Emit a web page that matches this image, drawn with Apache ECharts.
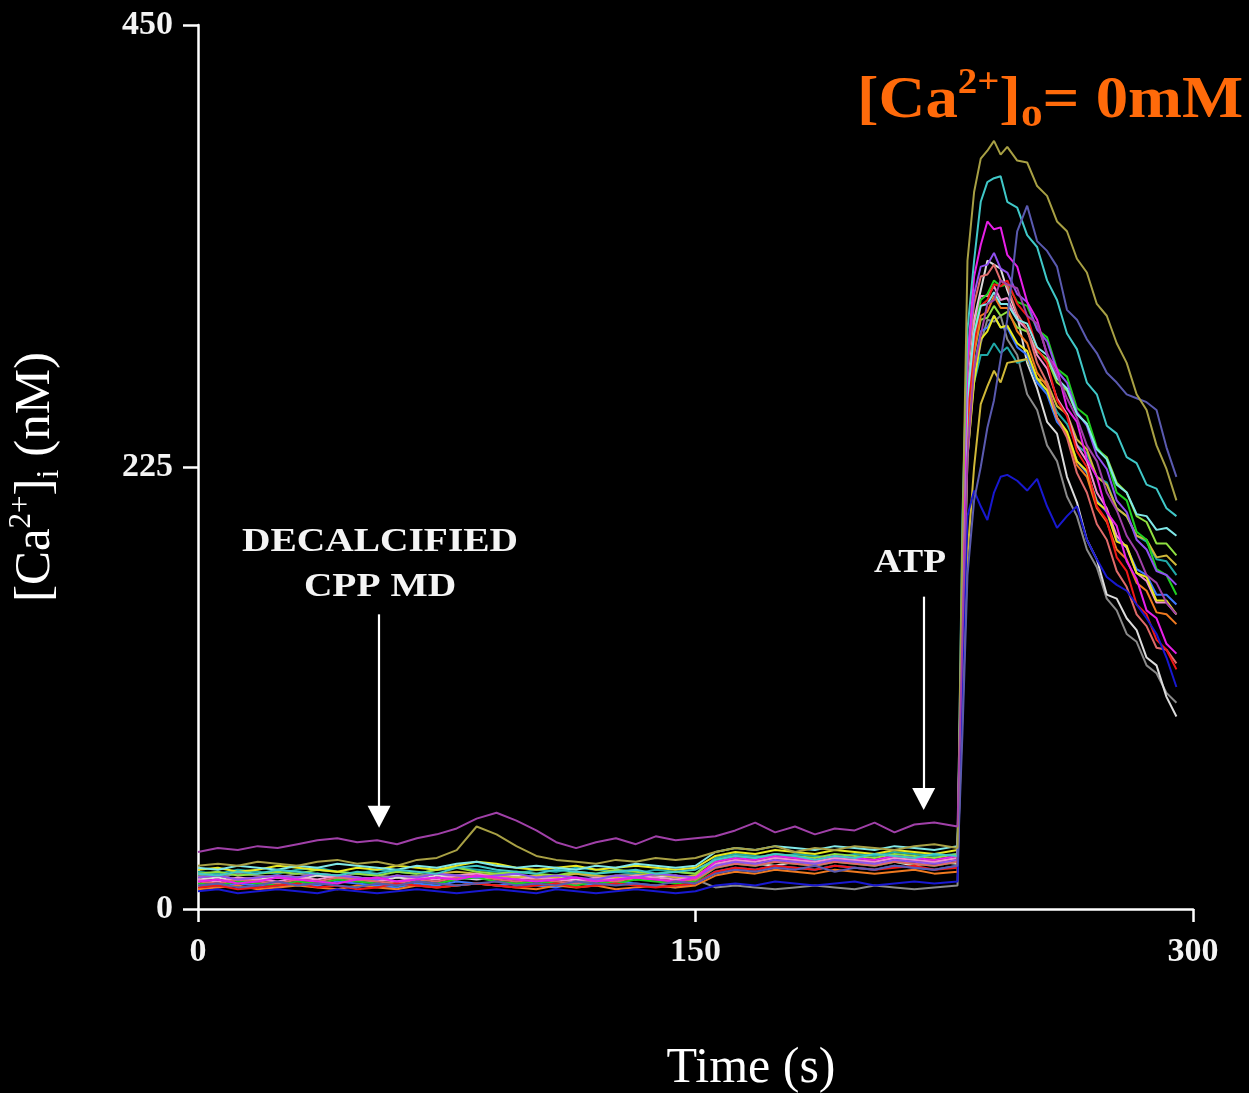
<!DOCTYPE html>
<html><head><meta charset="utf-8">
<script src="https://cdn.jsdelivr.net/npm/echarts@6/dist/echarts.min.js"></script>
<style>html,body{margin:0;padding:0;background:#000}#c{width:1249px;height:1093px}</style>
</head><body><div id="c"></div>
<script>
// time points (s)
const times = [0,6,12,18,24,30,36,42,48,54, 60,66,72,78,84,90,96,102,108,114, 120,126,132,138,144,150,156,162,168,174, 180,186,192,198,204,210,216,222,229,
  230.5,232,234,236,238,240,242,244,247,250, 253,256,259,262,265,268,271,274,277,280, 283,286,289,292,295];
const xTicks = [0,150,300];
const yTicks = [0,225,450];

// [Ca2+]i traces (nM), one per cell
const purple = [29,31,30,32,31,33,35,36,34,35, 33,36,38,41,46,49,45,40,34,31, 34,36,33,37,35,36,37,40,44,39, 42,38,41,40,44,39,43,44,42,
  140,230,275,292,308,310,320,318,316,302, 298,283,272,260,250,236,228,212,203,190, 182,170,166,156,150];
const olive = [22,23,22,24,23,22,24,25,23,24, 22,25,26,30,42,38,32,27,25,24, 23,25,24,26,25,26,29,31,30,32, 29,31,30,32,31,30,32,33,31,
  190,330,365,382,386,391,384,388,381,380, 368,363,350,345,331,324,308,302,288,278, 262,254,236,224,208];
const slate = [12,13,11,12,14,12,13,12,11,13, 12,14,13,12,13,14,12,13,12,14, 13,12,13,12,14,13,18,20,19,21, 20,22,19,21,20,22,21,20,22,
  90,170,208,225,245,259,280,300,345,358, 340,335,327,305,300,290,283,273,268,262, 260,258,254,235,220];
const cyan = [18,17,19,18,20,19,18,17,19,18, 20,19,18,21,22,20,19,18,20,19, 18,19,20,18,19,20,25,27,26,28, 27,25,27,26,28,27,26,28,27,
  200,295,330,360,370,372,373,360,357,343, 337,320,310,293,285,268,262,246,242,230, 227,216,214,204,200];
const blue = [9,10,8,9,10,9,8,10,9,8, 9,10,9,8,9,10,9,8,10,9, 8,9,10,9,8,9,12,13,12,14, 13,12,13,14,12,13,14,13,14,
  120,200,213,205,198,212,220,221,218,213, 219,205,194,200,205,188,178,169,165,162, 155,148,140,128,113];
const white = [15,16,14,15,16,15,17,16,15,14, 16,15,17,16,15,16,17,15,16,15, 14,16,15,16,17,15,22,24,23,22, 24,23,25,24,23,24,22,24,23,
  150,260,300,315,330,328,326,315,302,278, 265,248,242,220,207,188,178,160,158,148, 142,128,124,108,98];
const gray = [17,16,18,17,16,18,17,16,18,17, 16,17,18,17,16,18,17,16,17,18, 16,17,18,17,16,15,11,12,11,10, 11,12,11,10,12,11,10,11,12,
  130,230,270,288,300,299,302,290,282,262, 254,236,228,210,200,183,174,158,152,140, 136,124,120,110,105];
const magenta = [14,15,13,14,16,15,14,13,15,16, 14,15,16,15,17,16,15,14,15,16, 14,15,16,15,14,16,24,26,25,27, 26,25,27,26,25,27,26,25,27,
  170,280,322,338,350,346,347,333,327,309, 300,282,275,255,248,229,220,202,195,177, 168,152,148,135,130];
const red = [11,12,10,11,12,13,11,12,10,11, 13,12,11,12,13,12,11,12,13,11, 12,13,12,11,12,13,19,21,20,22, 21,20,22,21,20,21,22,20,21,
  140,250,288,307,310,318,317,320,308,302, 285,278,259,251,233,225,205,198,179,172, 155,150,137,132,122];
const green = [13,12,14,13,12,14,13,15,14,13, 12,14,13,15,16,14,13,14,13,12, 14,13,15,14,13,14,21,23,22,24, 23,22,24,23,22,24,23,22,24,
  160,260,293,310,313,320,317,318,309,307, 295,291,275,271,255,251,235,229,212,208, 192,188,173,170,160];
const yellow = [20,21,19,20,22,21,20,19,21,20, 22,21,20,22,24,23,21,20,21,22, 20,21,22,21,20,21,27,29,28,30, 29,28,30,29,28,30,29,28,30,
  130,230,268,290,294,302,296,297,288,284, 270,264,250,243,228,223,207,203,187,185, 171,169,157,157,150];
const ochre = [16,17,15,16,17,16,18,17,16,15, 17,16,18,19,18,17,16,17,16,18, 17,16,17,18,16,17,23,25,24,26, 25,24,26,25,24,26,25,24,26,
  100,180,225,257,266,274,268,278,279,280, 270,268,256,252,239,234,220,216,204,200, 190,188,179,180,175];
const teal = [19,18,20,19,18,20,21,19,18,20, 19,18,20,21,20,19,18,20,19,21, 20,19,18,20,19,18,26,28,27,26, 28,27,26,28,27,29,28,27,28,
  150,240,268,282,282,288,283,286,278,280, 268,264,253,247,236,232,220,217,204,200, 190,187,178,177,170];
const orange = [10,11,12,10,11,12,11,10,12,11, 10,12,11,12,13,12,11,10,12,11, 12,10,11,12,11,12,17,19,18,20, 19,18,20,19,18,19,20,18,19,
  140,245,283,302,304,312,306,306,294,288, 273,266,250,242,226,220,204,197,183,178, 166,162,151,150,145];
const pink = [15,14,16,15,14,16,15,17,16,15, 14,16,15,17,18,16,15,16,15,14, 16,15,17,16,15,16,23,25,24,26, 25,24,26,25,24,26,25,24,26,
  160,265,298,312,312,317,310,311,300,295, 282,275,260,252,236,228,212,204,190,184, 171,167,156,156,150];
const lime = [18,19,17,18,19,18,20,19,18,17, 19,18,20,21,19,18,19,18,17,19, 18,20,19,18,19,18,25,27,26,28, 27,26,28,27,26,28,27,26,28,
  150,250,283,300,301,307,302,304,296,294, 284,280,268,264,252,247,234,230,217,212, 200,197,186,186,180];
const lightblue = [12,11,13,12,11,13,12,14,13,12, 11,13,12,14,13,12,13,12,11,13, 12,14,13,12,11,13,19,21,20,22, 21,20,22,21,20,22,21,20,22,
  130,235,276,294,296,302,296,296,286,282, 268,262,248,242,228,222,208,202,188,184, 173,170,160,160,155];
const salmon = [14,13,15,14,13,15,14,16,15,14, 13,15,14,16,17,15,14,15,14,13, 15,14,16,15,14,15,21,23,22,24, 23,22,24,23,22,24,23,22,24,
  170,275,308,322,323,328,320,317,303,295, 278,268,250,240,222,212,196,188,172,164, 150,144,133,132,125];
const violet = [16,17,15,16,17,16,18,17,16,15, 17,16,18,17,16,17,18,16,17,16, 15,17,16,18,17,16,22,24,23,25, 24,23,25,24,23,25,24,23,25,
  170,280,313,327,328,334,326,324,313,309, 295,289,274,268,253,246,231,224,208,202, 188,183,172,170,165];
const lightcyan = [21,20,22,21,20,22,21,23,22,21, 20,22,21,23,24,22,21,22,21,20, 22,21,23,22,21,22,29,31,30,32, 31,30,32,31,30,32,31,30,32,
  160,260,293,307,308,314,308,308,300,298, 286,282,270,265,252,247,234,229,216,212, 201,200,193,194,190];

// arrows (data coords)
const arrowDecal = [[54.6,150],[54.6,47]];
const arrowATP = [[218.8,159],[218.8,56]];

const traces = [
  ['gray', gray, '#8a8a8a'], ['white', white, '#dcdcdc'], ['teal', teal, '#20a8a8'],
  ['ochre', ochre, '#d0b838'], ['lightblue', lightblue, '#3c78ff'], ['lime', lime, '#90e040'],
  ['orange', orange, '#f07a20'], ['pink', pink, '#f090d0'], ['green', green, '#20d020'],
  ['yellow', yellow, '#e8e820'], ['salmon', salmon, '#e06a6a'], ['violet', violet, '#9050f0'],
  ['red', red, '#f01818'], ['lightcyan', lightcyan, '#80e8e8'], ['magenta', magenta, '#e820e8'],
  ['blue', blue, '#1818d0'], ['cyan', cyan, '#40c8c8'], ['slate', slate, '#5a5ab0'],
  ['olive', olive, '#a8a044'], ['purple', purple, '#a040a8']
];

const serif = '"Liberation Serif", "Times New Roman", serif';
const chart = echarts.init(document.getElementById('c'));
const series = traces.map(([name, vals, color]) => ({
  name, type: 'line', symbol: 'none', silent: true,
  data: times.map((t, i) => [t, vals[i]]),
  lineStyle: { color, width: 2 }, itemStyle: { color }
}));
series[series.length - 1].markLine = {
  silent: true, symbol: ['none', 'triangle'], symbolSize: [23, 22],
  label: { show: false },
  lineStyle: { color: '#fff', width: 2.2, type: 'solid' },
  data: [
    [{ coord: arrowDecal[0] }, { coord: arrowDecal[1] }],
    [{ coord: arrowATP[0] }, { coord: arrowATP[1] }]
  ]
};

const orangeC = '#ff6a0a';
chart.setOption({
  backgroundColor: '#000',
  animation: false,
  grid: { left: 198, right: 56, top: 25, bottom: 184, outerBoundsMode: 'none', containLabel: false },
  xAxis: {
    type: 'value', min: xTicks[0], max: xTicks[2], interval: xTicks[1] - xTicks[0],
    axisLine: { lineStyle: { color: '#fff', width: 2.5 } },
    axisTick: { show: true, length: 13, lineStyle: { color: '#fff', width: 2.5 } },
    axisLabel: { color: '#f4f4f4', fontFamily: serif, fontWeight: 'bold', fontSize: 34, margin: 26 },
    splitLine: { show: false }
  },
  yAxis: {
    type: 'value', min: yTicks[0], max: yTicks[2], interval: yTicks[1] - yTicks[0],
    axisLine: { show: true, lineStyle: { color: '#fff', width: 2.5 } },
    axisTick: { show: true, length: 15, lineStyle: { color: '#fff', width: 2.5 } },
    axisLabel: { color: '#f4f4f4', fontFamily: serif, fontWeight: 'bold', fontSize: 34, margin: 25 },
    splitLine: { show: false },
    name: '[Ca{sup|2+}]{sub|i} (nM)', nameLocation: 'middle', nameRotate: 90, nameGap: 132,
    nameTextStyle: {
      color: '#fff', fontFamily: serif, fontSize: 51, lineHeight: 60, padding: [0, 20, 0, 0],
      rich: {
        sup: { color: '#fff', fontFamily: serif, fontSize: 31, verticalAlign: 'top', lineHeight: 60 },
        sub: { color: '#fff', fontFamily: serif, fontSize: 32, verticalAlign: 'bottom', lineHeight: 60 }
      }
    }
  },
  graphic: [
    { type: 'text', x: 857, y: 66, scaleX: 1.08, silent: true,
      style: {
        text: '[Ca{sup|2+}]{sub|o}= 0mM', fill: orangeC, font: 'bold 60px ' + serif, lineHeight: 70, verticalAlign: 'top',
        rich: {
          sup: { fill: orangeC, font: 'bold 36px ' + serif, verticalAlign: 'top', lineHeight: 70 },
          sub: { fill: orangeC, font: 'bold 40px ' + serif, verticalAlign: 'bottom', lineHeight: 70 }
        }
      } },
    { type: 'text', x: 380, y: 520, scaleX: 1.16, silent: true,
      style: { text: 'DECALCIFIED\nCPP MD', fill: '#f4f4f4', font: 'bold 34px ' + serif, align: 'center', verticalAlign: 'top', lineHeight: 45 } },
    { type: 'text', x: 910, y: 546, scaleX: 1.1, silent: true,
      style: { text: 'ATP', fill: '#f4f4f4', font: 'bold 34px ' + serif, align: 'center', verticalAlign: 'top' } },
    { type: 'text', x: 751, y: 1044, silent: true,
      style: { text: 'Time (s)', fill: '#fff', font: '50px ' + serif, align: 'center', verticalAlign: 'top' } }
  ],
  series
});
</script></body></html>
